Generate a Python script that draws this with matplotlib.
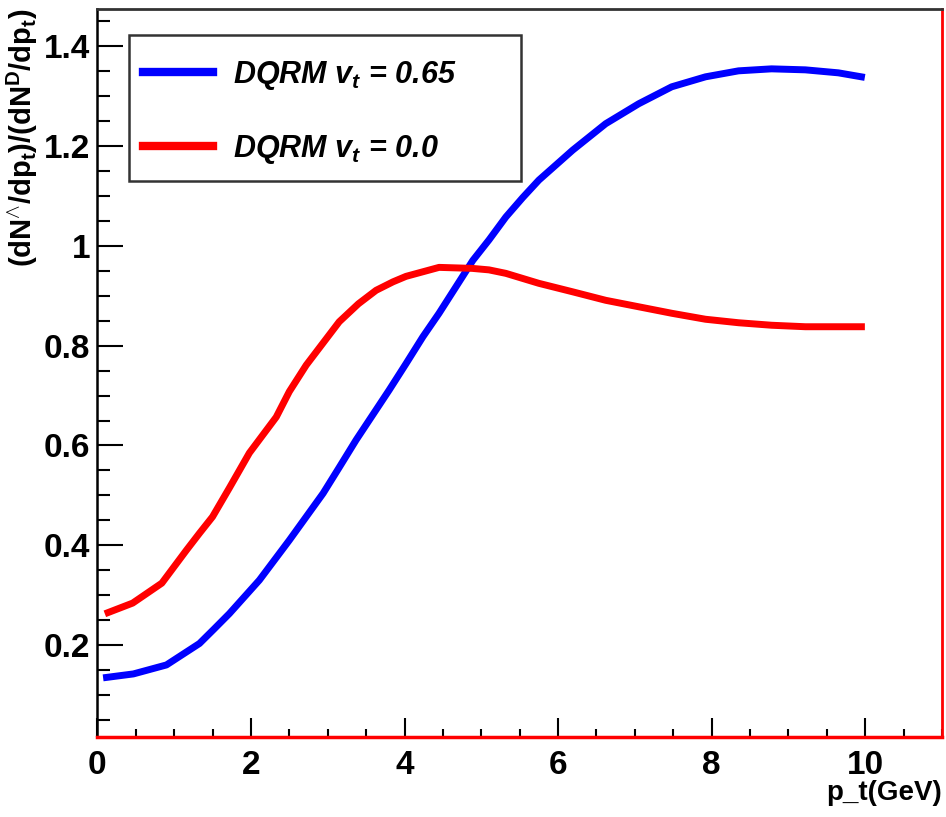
import numpy as np
import matplotlib.pyplot as plt
from matplotlib.patches import Rectangle

# --- data ---
pt_blue = [0.12, 0.47, 0.90, 1.33, 1.52, 1.72, 2.11, 2.50, 2.94, 3.15, 3.37, 3.80,
           4.02, 4.24, 4.45, 4.67, 4.89, 5.10, 5.32, 5.54, 5.75, 6.19, 6.62, 7.05,
           7.48, 7.92, 8.35, 8.78, 9.22, 9.65, 9.95]
ratio_blue = [0.135, 0.142, 0.160, 0.203, 0.232, 0.263, 0.330, 0.410, 0.504, 0.556,
              0.611, 0.711, 0.764, 0.818, 0.865, 0.918, 0.971, 1.012, 1.058, 1.097,
              1.132, 1.192, 1.245, 1.285, 1.319, 1.339, 1.351, 1.355, 1.353, 1.347,
              1.339]

pt_red = [0.14, 0.46, 0.84, 1.16, 1.33, 1.50, 1.72, 1.98, 2.33, 2.50, 2.72, 3.15,
          3.40, 3.63, 3.85, 4.02, 4.45, 4.88, 5.10, 5.32, 5.75, 6.19, 6.62, 7.05,
          7.48, 7.92, 8.35, 8.78, 9.22, 9.95]
ratio_red = [0.265, 0.284, 0.324, 0.390, 0.424, 0.457, 0.515, 0.585, 0.657, 0.708,
             0.761, 0.848, 0.884, 0.911, 0.928, 0.939, 0.957, 0.955, 0.952, 0.945,
             0.925, 0.908, 0.891, 0.878, 0.865, 0.853, 0.846, 0.841, 0.838, 0.838]

labels = [r"DQRM v$_{t}$ = 0.65", r"DQRM v$_{t}$ = 0.0"]

plt.rcParams['font.family'] = ['Liberation Sans', 'DejaVu Sans']
plt.rcParams['font.weight'] = 'bold'
plt.rcParams['mathtext.fontset'] = 'custom'
plt.rcParams['mathtext.rm'] = 'Liberation Sans:bold'
plt.rcParams['mathtext.it'] = 'Liberation Sans:bold:italic'
plt.rcParams['mathtext.bf'] = 'Liberation Sans:bold'

fig = plt.figure(figsize=(9.46, 8.17), dpi=100)
ax = fig.add_axes([0.1029, 0.0979, 0.8929, 0.8911])

ax.plot(pt_blue, ratio_blue, color='#0000ff', lw=5, solid_joinstyle='round',
        label=labels[0])
ax.plot(pt_red, ratio_red, color='#ff0000', lw=5, solid_joinstyle='round',
        label=labels[1])

ax.set_xlim(0, 11)
ax.set_ylim(0.0155, 1.475)
ax.set_xticks(np.arange(0, 11, 2))
ax.set_xticks(np.arange(0, 11.01, 0.5), minor=True)
ax.set_yticks([0.2, 0.4, 0.6, 0.8, 1.0, 1.2, 1.4])
ax.set_yticks(np.arange(0.05, 1.46, 0.05), minor=True)
ax.set_xticklabels(['0', '2', '4', '6', '8', '10'])
ax.set_yticklabels(['0.2', '0.4', '0.6', '0.8', '1', '1.2', '1.4'])

ax.tick_params(axis='both', which='both', direction='in', width=1.5,
               labelsize=24, top=False, right=False)
ax.tick_params(axis='x', which='major', length=14, pad=9)
ax.tick_params(axis='x', which='minor', length=6)
ax.tick_params(axis='y', which='major', length=19, pad=5)
ax.tick_params(axis='y', which='minor', length=9)

ax.spines['left'].set_color('black')
ax.spines['left'].set_linewidth(1.8)
ax.spines['top'].set_color('#333333')
ax.spines['top'].set_linewidth(2)
ax.spines['right'].set_color('red')
ax.spines['right'].set_linewidth(2)
ax.spines['bottom'].set_color('red')
ax.spines['bottom'].set_linewidth(2.5)

fig.text(0.024, 0.990, r"(dN$^{\wedge}$/dp$_{\mathrm{t}}$)/(dN$^{\mathrm{D}}$/dp$_{\mathrm{t}}$)",
         rotation=90, ha='center', va='top', fontsize=21, fontweight='bold')
fig.text(0.996, 0.0208, "p_t(GeV)", ha='right', va='baseline', fontsize=20,
         fontweight='bold')

# legend box drawn separately (ROOT-style fixed size)
ax.add_patch(Rectangle((0.0375, 0.7637), 0.464, 0.2005, transform=ax.transAxes,
                       facecolor='white', edgecolor='#333333', lw=1.8, zorder=4))
leg = ax.legend(loc='upper left', bbox_to_anchor=(0.0541, 0.9313), borderaxespad=0,
                prop={'size': 22, 'weight': 'bold', 'style': 'italic'},
                handlelength=2.3, handletextpad=0.65, borderpad=0,
                labelspacing=1.33, frameon=False)
leg.set_zorder(5)
for h in leg.get_lines():
    h.set_linewidth(6)

fig.savefig('out.png', dpi=100)
